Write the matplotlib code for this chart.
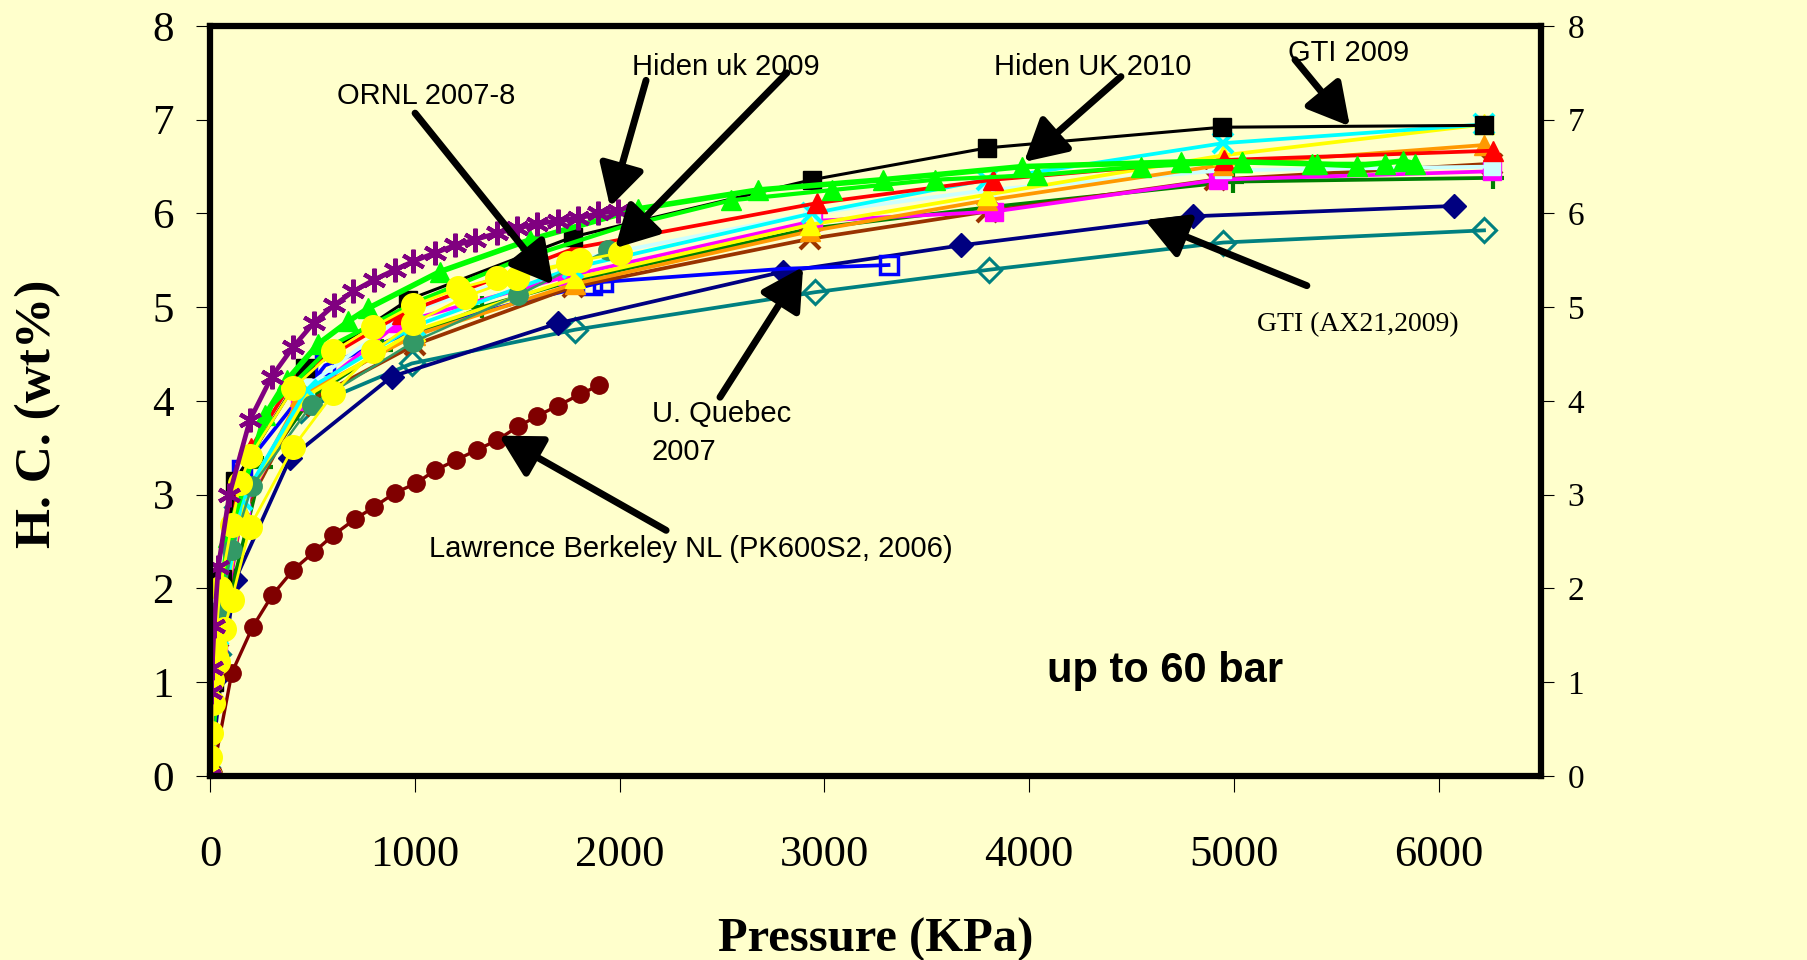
import matplotlib
matplotlib.use("Agg")
import matplotlib.pyplot as plt

# Hydrogen capacity (wt%) vs pressure (kPa) for several labs / sorbents

p_purple = [0, 5, 10, 20, 40, 94, 195, 301, 407, 505, 605, 700, 798, 903, 993, 1099,
            1196, 1294, 1400, 1497, 1595, 1701, 1798, 1896, 1994]
hc_purple = [0, 0.9, 1.15, 1.6, 2.23, 3.0, 3.8, 4.26, 4.58, 4.83, 5.02, 5.17, 5.29, 5.40,
             5.49, 5.58, 5.66, 5.72, 5.79, 5.84, 5.89, 5.92, 5.95, 6.00, 6.03]

p_dred = [13, 106, 208, 304, 407, 508, 602, 708, 801, 903, 1004, 1099, 1201, 1305,
          1400, 1506, 1598, 1698, 1807, 1901]
hc_dred = [0.03, 1.10, 1.59, 1.93, 2.20, 2.39, 2.57, 2.74, 2.87, 3.02, 3.12, 3.26,
           3.37, 3.48, 3.58, 3.73, 3.84, 3.95, 4.07, 4.17]

p_black = [0, 20, 60, 122, 464, 968, 1771, 2939, 3796, 4940, 6222]
hc_black = [0, 1.0, 2.1, 3.15, 4.35, 5.08, 5.75, 6.36, 6.70, 6.92, 6.94]

p_limeA = [0, 30, 89, 269, 374, 529, 675, 773, 1123, 1563, 2091, 2674, 3284, 3966,
           4740, 5039, 5379, 5599, 5827, 5884]
hc_limeA = [0, 1.5, 2.55, 3.85, 4.22, 4.61, 4.85, 4.99, 5.38, 5.72, 6.05, 6.25, 6.36,
            6.50, 6.55, 6.55, 6.53, 6.51, 6.56, 6.53]

p_limeB = [0, 100, 300, 600, 1000, 1500, 2000, 2543, 3037, 3539, 4036, 4548, 5039, 5404, 5737]
hc_limeB = [0, 2.7, 3.95, 4.6, 5.05, 5.5, 5.85, 6.14, 6.25, 6.36, 6.41, 6.50, 6.55, 6.53, 6.53]

p_red = [0, 30, 100, 200, 415, 936, 1782, 2962, 3825, 4950, 6266]
hc_red = [0, 1.5, 2.8, 3.5, 4.26, 4.93, 5.63, 6.11, 6.36, 6.57, 6.67]

p_cyan = [0, 40, 155, 472, 1000, 1771, 2938, 3792, 4948, 6222]
hc_cyan = [0, 1.5, 2.94, 4.12, 4.8, 5.42, 6.0, 6.36, 6.75, 6.95]

p_yel = [0, 40, 150, 470, 1000, 1782, 2930, 3792, 4948, 6222]
hc_yel = [0, 1.4, 2.85, 4.05, 4.75, 5.31, 5.88, 6.2, 6.62, 6.95]

p_orange = [0, 40, 150, 440, 1000, 1782, 2930, 3792, 4948, 6221]
hc_orange = [0, 1.4, 2.85, 4.05, 4.7, 5.25, 5.81, 6.14, 6.52, 6.73]

p_brown = [0, 40, 150, 440, 1000, 1774, 2930, 3792, 4907, 6258]
hc_brown = [0, 1.3, 2.75, 3.95, 4.6, 5.22, 5.73, 6.02, 6.36, 6.53]

p_mag = [0, 40, 150, 440, 920, 1742, 2946, 3828, 4923, 6258]
hc_mag = [0, 1.3, 2.8, 4.0, 4.83, 5.33, 5.92, 6.02, 6.36, 6.45]

p_lcyan = [0, 40, 150, 470, 968, 1771, 2938, 3792, 4948, 6258]
hc_lcyan = [0, 1.5, 2.9, 4.15, 4.95, 5.5, 6.0, 6.25, 6.46, 6.5]

p_dgreen = [0, 50, 252, 500, 838, 1326, 1800, 2938, 3816, 4996, 6266]
hc_dgreen = [0, 1.5, 3.3, 4.05, 4.54, 5.0, 5.3, 5.84, 6.07, 6.34, 6.38]

p_navy = [0, 57, 122, 391, 887, 1701, 2800, 3667, 4801, 6074]
hc_navy = [0, 1.1, 2.09, 3.39, 4.26, 4.83, 5.38, 5.66, 5.97, 6.08]

p_teal = [0, 40, 130, 444, 985, 1782, 2954, 3805, 4948, 6221]
hc_teal = [0, 1.3, 2.87, 3.90, 4.40, 4.76, 5.16, 5.40, 5.69, 5.82]

p_blue = [0, 30, 155, 562, 1000, 1500, 1864, 1921, 2800, 3313]
hc_blue = [0, 1.5, 3.26, 4.38, 4.75, 5.05, 5.24, 5.27, 5.41, 5.45]

p_ycA = [0, 3, 8, 24, 49, 106, 146, 195, 407, 602, 797, 993, 1212, 1400, 1750, 2002]
hc_ycA = [0, 0.46, 1.02, 1.38, 2.0, 2.68, 3.12, 3.41, 4.14, 4.53, 4.79, 5.02, 5.2,
          5.31, 5.47, 5.58]

p_ycB = [0, 16, 41, 70, 106, 195, 407, 602, 797, 993, 1245, 1497, 1807]
hc_ycB = [0.2, 0.78, 1.22, 1.57, 1.88, 2.66, 3.51, 4.08, 4.53, 4.83, 5.11, 5.31, 5.50]

p_sgreen = [0, 49, 106, 204, 496, 993, 1506, 1945]
hc_sgreen = [0, 1.77, 2.41, 3.09, 3.96, 4.63, 5.13, 5.61]

x_ticks = [0, 1000, 2000, 3000, 4000, 5000, 6000]
y_ticks = [0, 1, 2, 3, 4, 5, 6, 7, 8]

bg = "#FFFFCC"
serif = "Liberation Serif"
sans = "Liberation Sans"

fig = plt.figure(figsize=(18.08, 9.6), dpi=100, facecolor=bg)
ax = fig.add_axes([0.1162, 0.1917, 0.7362, 0.78125])
ax.set_facecolor(bg)

lw = 2.7
# lines drawn from back to front
ax.plot(p_teal, hc_teal, color="#008080", lw=lw, marker="D", ms=12, mfc="none", mew=2.2)
ax.plot(p_navy, hc_navy, color="#000080", lw=lw, marker="D", ms=12)
ax.plot(p_blue, hc_blue, color="#0000FF", lw=lw, marker="s", ms=13, mfc="none", mew=2.5,
        markevery=[2, 3, 6, 7, 9])
ax.plot(p_dgreen, hc_dgreen, color="#008000", lw=lw, marker="+", ms=16, mew=3)
ax.plot(p_brown, hc_brown, color="#993300", lw=lw, marker="x", ms=14, mew=3)
ax.plot(p_mag, hc_mag, color="#FF00FF", lw=lw, marker="s", ms=13)
ax.plot(p_lcyan, hc_lcyan, color="#CCFFFF", lw=lw, marker="s", ms=12)
ax.plot(p_orange, hc_orange, color="#FF9900", lw=lw, marker="^", ms=15)
ax.plot(p_yel, hc_yel, color="#FFFF00", lw=lw, marker="^", ms=15)
ax.plot(p_cyan, hc_cyan, color="#00FFFF", lw=lw, marker="x", ms=15, mew=3)
ax.plot(p_red, hc_red, color="#FF0000", lw=lw, marker="^", ms=15)
ax.plot(p_black, hc_black, color="black", lw=2.2, marker="s", ms=13)
ax.plot(p_limeB, hc_limeB, color="#00FF00", lw=3.0, marker="^", ms=15, markevery=slice(7, None))
ax.plot(p_limeA, hc_limeA, color="#00FF00", lw=4.0, marker="^", ms=15)
ax.plot(p_sgreen, hc_sgreen, color="#339966", lw=1.8, marker="o", ms=14)
ax.plot(p_dred, hc_dred, color="#800000", lw=2.4, marker="o", ms=12.5)
ax.plot(p_ycB, hc_ycB, color="#FFFF00", lw=2.0, marker="o", ms=17)
ax.plot(p_ycA, hc_ycA, color="#FFFF00", lw=2.0, marker="o", ms=17)
ax.plot(p_purple, hc_purple, color="#800080", lw=3.4, marker=(6, 2, 0), ms=17, mew=3)

ax.set_xlim(0, 6500)
ax.set_ylim(0, 8)
ax.set_xticks(x_ticks)
ax.set_yticks(y_ticks)
ax.set_xticklabels([str(v) for v in x_ticks], fontfamily=serif, fontsize=32)
ax.set_yticklabels([str(v) for v in y_ticks], fontfamily=serif, fontsize=31)
ax.tick_params(axis="x", direction="out", length=11.5, width=0.8, pad=31)
ax.tick_params(axis="y", direction="out", length=10, width=0.8, pad=16)

for s in ax.spines.values():
    s.set_linewidth(4.5)
    s.set_capstyle("projecting")

# right hand scale
ax2 = ax.twinx()
ax2.set_ylim(0, 8)
ax2.set_yticks(y_ticks)
ax2.set_yticklabels([str(v) for v in y_ticks], fontfamily=serif, fontsize=24)
ax2.tick_params(axis="y", direction="out", length=9, width=0.8, pad=10)
for s in ax2.spines.values():
    s.set_visible(False)

ax.set_xlabel("Pressure (KPa)", fontfamily=serif, fontsize=35, fontweight="bold")
ax.xaxis.label.set_va("baseline")
ax.xaxis.set_label_coords(0.5, -0.2347)
ax.set_ylabel("H. C. (wt%)", fontfamily=serif, fontsize=37, fontweight="bold")
ax.yaxis.label.set_va("center")
ax.yaxis.set_label_coords(-0.129, 0.483)

# labels and arrows
arrow = dict(arrowstyle="-|>,head_length=0.6,head_width=0.33", color="black", lw=5,
             mutation_scale=42, shrinkA=0, shrinkB=0)
notes = [
    ((1001, 7.07), (1675, 5.24)),
    ((2129, 7.42), (1953, 6.07)),
    ((2817, 7.50), (1978, 5.63)),
    ((4448, 7.46), (3975, 6.55)),
    ((5298, 7.64), (5566, 6.93)),
    ((5356, 5.23), (4565, 5.93)),
    ((2490, 4.04), (2896, 5.43)),
    ((2227, 2.62), (1411, 3.63)),
]
for tail, head in notes:
    ax.annotate("", xy=head, xytext=tail, arrowprops=arrow, zorder=10)

txt = dict(fontfamily=sans, fontsize=21, va="center", ha="left", zorder=11)
ax.text(620, 7.25, "ORNL 2007-8", **txt)
ax.text(2061, 7.56, "Hiden uk 2009", **txt)
ax.text(3828, 7.56, "Hiden UK 2010", **txt)
ax.text(5264, 7.71, "GTI 2009", **txt)
ax.text(2156, 3.66, "U. Quebec\n2007", linespacing=1.45, **txt)
ax.text(1069, 2.42, "Lawrence Berkeley NL (PK600S2, 2006)", **txt)
ax.text(5112, 4.81, "GTI (AX21,2009)", fontfamily=serif, fontsize=20, va="center", ha="left")
ax.text(4087, 1.12, "up to 60 bar", fontfamily=sans, fontsize=30, fontweight="bold",
        va="center", ha="left")

fig.savefig("out.png", dpi=100, facecolor=bg)
plt.close("all")
